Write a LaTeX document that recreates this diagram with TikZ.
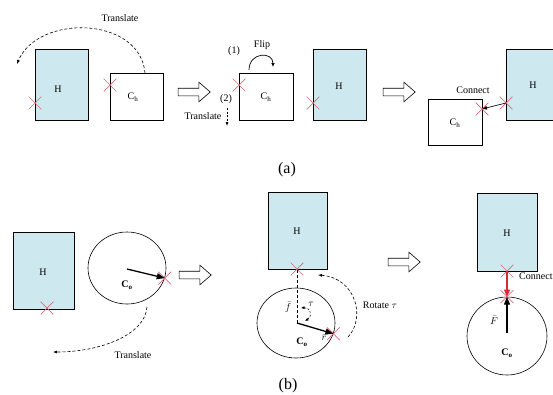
\documentclass[tikz,border=0pt]{standalone}
\usepackage{fontspec}
\setmainfont{Liberation Serif}
\usetikzlibrary{shapes.misc,shapes.arrows,shapes.geometric,arrows.meta}

\definecolor{hfill}{HTML}{CDE8EE}
\definecolor{markred}{HTML}{E06A7A}
\definecolor{linkred}{HTML}{D42A3A}

\tikzset{
  hbox/.style={draw, line width=0.7pt, fill=hfill, inner sep=0pt},
  chbox/.style={draw, line width=0.7pt, fill=white, inner sep=0pt},
  oval/.style={draw, line width=0.6pt, ellipse, inner sep=0pt},
  xmark/.style={cross out, draw=markred, line width=0.7pt, minimum size=12pt, inner sep=0pt},
  lbl/.style={font=\fontsize{10}{12}\selectfont, inner sep=1pt},
  figcap/.style={font=\fontsize{16}{18}\selectfont, inner sep=0pt},
  stepper/.style={single arrow, draw, line width=0.6pt, fill=white,
    minimum height=32pt, inner xsep=0pt, inner ysep=3.5pt,
    single arrow head extend=6pt, single arrow tip angle=82},
  moveline/.style={dashed, line width=0.6pt, dash pattern=on 3pt off 2pt, -{Latex[length=4pt,width=3pt]}},
  vec/.style={line width=1.3pt, -{Triangle[length=8pt,width=6pt]}},
}

\begin{document}
\begin{tikzpicture}[x=1pt,y=-1pt]
\useasboundingbox (0,0) rectangle (553,394);
\clip (0,0) rectangle (553,394);

% ---------- (a) step 1: translate C_h ----------
\node[hbox, minimum width=53pt, minimum height=71pt] (h1) at (61.5,84.5) {};
\node[lbl] (h1t) at (58,89) {H};
\node[chbox, minimum width=53pt, minimum height=47pt] (c1) at (136.5,96.5) {};
\node[lbl] (c1t) at (133,97) {C\textsubscript{h}};
\node[xmark] (x1) at (35,103) {};
\node[xmark] (x2) at (110,85) {};
\coordinate (t1s) at (145,73);
\coordinate (t1e) at (17,64);
\draw[moveline] (t1s) .. controls (140,16) and (38,14) .. (t1e);
\node[lbl] (t1l) at (120,18) {Translate};

\node[stepper] (s1) at (192,92) {};

% ---------- (a) step 2: flip and translate ----------
\node[chbox, minimum width=54pt, minimum height=47pt] (c2) at (266,96.5) {};
\node[lbl] (c2t) at (266,97) {C\textsubscript{h}};
\node[xmark] (x3) at (239,85) {};
\coordinate (f1) at (249,70);
\coordinate (f2) at (273,67);
\draw[line width=0.7pt, -{Latex[length=4pt,width=3.5pt]}] (f1) .. controls (249,52) and (273,51) .. (f2);
\node[lbl] (flip) at (262,45) {Flip};
\node[lbl] (n1) at (234,51) {(1)};
\node[lbl] (n2) at (226,99) {(2)};
\node[lbl] (t2l) at (203,116) {Translate};
\coordinate (d1) at (227,108);
\coordinate (d2) at (227,126);
\draw[moveline, dash pattern=on 2pt off 1.5pt] (d1) -- (d2);
\node[hbox, minimum width=53pt, minimum height=71pt] (h2) at (339.5,84.5) {};
\node[lbl] (h2t) at (339,86) {H};
\node[xmark] (x4) at (313,103) {};

\node[stepper] (s2) at (397,92) {};

% ---------- (a) step 3: connect ----------
\node[chbox, minimum width=54pt, minimum height=46pt] (c3) at (455,122) {};
\node[lbl] (c3t) at (455,123) {C\textsubscript{h}};
\node[hbox, minimum width=53pt, minimum height=71pt] (h3) at (532.5,84.5) {};
\node[lbl] (h3t) at (533,85) {H};
\node[xmark] (x5) at (506,103) {};
\node[xmark] (x6) at (482,109) {};
\draw[line width=0.7pt, -{Latex[length=5pt,width=4pt]}] (x5.center) -- (x6.center);
\node[lbl] (conn1) at (473,90) {Connect};

\node[figcap] (capa) at (287,170) {(a)};

% ---------- (b) step 1: translate C_o ----------
\node[hbox, minimum width=61pt, minimum height=77pt] (h4) at (43.5,270.5) {};
\node[lbl] (h4t) at (43,272) {H};
\node[xmark] (x7) at (47,308) {};
\node[oval, minimum width=78pt, minimum height=72pt] (e1) at (127,268) {};
\node[lbl] (e1t) at (127,285) {\textbf{C}\textsubscript{\textbf{o}}};
\node[xmark] (x8) at (e1.-15) {};
\coordinate (o1) at (127,269);
\draw[vec] (o1) -- (x8.center);
\coordinate (t3s) at (147,307);
\coordinate (t3e) at (53,352);
\draw[moveline] (t3s) .. controls (145,335) and (100,352) .. (t3e);
\node[lbl] (t3l) at (133,355) {Translate};

\node[stepper] (s3) at (193,275) {};

% ---------- (b) step 2: rotate ----------
\node[hbox, minimum width=59pt, minimum height=77pt] (h5) at (297.5,230.5) {};
\node[lbl] (h5t) at (297,231) {H};
\node[xmark] (x9) at (297,269) {};
\node[oval, minimum width=78pt, minimum height=70pt] (e2) at (296,323) {};
\coordinate (o2) at (297,323);
\draw[dashed, line width=0.6pt, dash pattern=on 3pt off 2pt] (o2) -- (x9.center);
\node[xmark] (x10) at (e2.-16) {};
\draw[vec] (o2) -- (x10.center);
\coordinate (a1) at (301,308);
\coordinate (a2) at (305,321);
\draw[dashed, line width=0.6pt, dash pattern=on 2pt off 1.5pt,
      {Latex[length=3.5pt,width=3pt]}-{Latex[length=3.5pt,width=3pt]}]
      (a1) .. controls (310,307) and (313,316) .. (a2);
\node[lbl] (fl) at (288,307) {$\bar{f}$};
\node[lbl] (taul) at (311,304) {$\tau$};
\node[lbl] (rl) at (324,338) {$\bar{r}$};
\node[lbl] (e2t) at (302,342) {\textbf{C}\textsubscript{\textbf{o}}};
\coordinate (r1) at (348,337);
\coordinate (r2) at (318,275);
\draw[moveline] (r1) .. controls (366,318) and (356,278) .. (r2);
\node[lbl] (rotl) at (380,305) {Rotate $\tau$};

\node[stepper] (s4) at (402,262) {};

% ---------- (b) step 3: connect ----------
\node[hbox, minimum width=60pt, minimum height=78pt] (h6) at (507,232) {};
\node[lbl] (h6t) at (507,233) {H};
\node[oval, minimum width=80pt, minimum height=78pt] (e3) at (507,336) {};
\node[xmark] (x11) at (507,271) {};
\node[xmark] (x12) at (e3.north) {};
\coordinate (o3) at (507,333);
\draw[vec] (o3) -- (x12.center);
\draw[line width=1.3pt, draw=linkred, -{Triangle[length=7pt,width=6pt,fill=linkred]}] (x11.center) -- (x12.center);
\node[lbl] (Fl) at (494,320) {$\bar{F}$};
\node[lbl] (e3t) at (507,353) {\textbf{C}\textsubscript{\textbf{o}}};
\node[lbl, anchor=west] (conn2) at (518,276) {Connect};

\node[figcap] (capb) at (288,386) {(b)};
\end{tikzpicture}
\end{document}
